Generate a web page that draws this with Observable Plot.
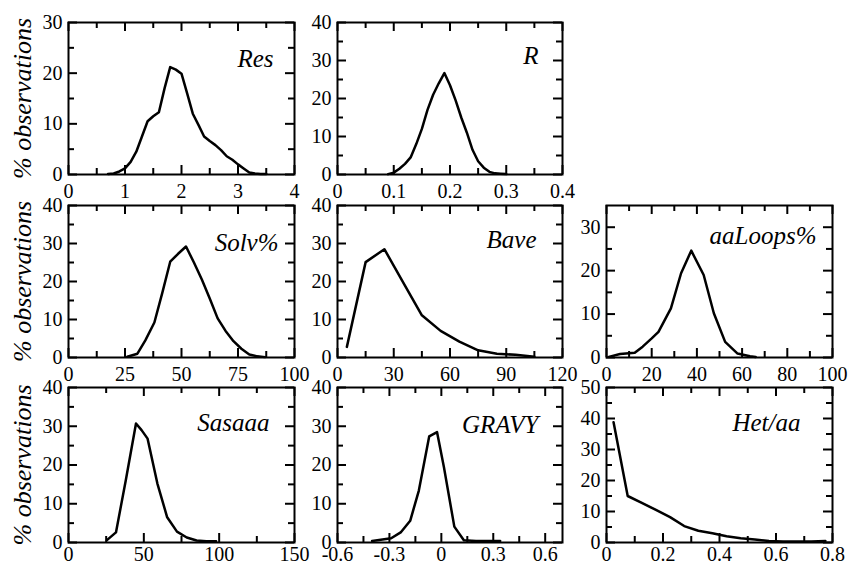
<!DOCTYPE html>
<html><head><meta charset="utf-8">
<script src="https://cdn.jsdelivr.net/npm/d3@7"></script>
<script src="https://cdn.jsdelivr.net/npm/@observablehq/plot@0.6"></script>
<style>
html,body{margin:0;padding:0;background:#fff;}
#chart{position:relative;width:849px;height:565px;overflow:hidden;background:#fff;font-family:"Liberation Serif",serif;}
#chart svg{position:absolute;font-family:"Liberation Serif",serif !important;}
#chart svg text, #chart svg tspan, #chart svg g{font-family:"Liberation Serif",serif !important;}
</style></head><body><div id="chart"></div>
<script>
// ---- data ----
const resX = [0.7,0.8,0.9,1.0,1.1,1.2,1.3,1.4,1.5,1.6,1.7,1.8,1.9,2.0,2.1,2.2,2.3,2.4,2.5,2.6,2.7,2.8,2.9,3.0,3.1,3.2,3.3,3.4,3.5];
const resY = [0.1,0.2,0.6,1.2,2.5,4.5,7.5,10.5,11.5,12.3,17,21.2,20.7,19.9,16,12,9.8,7.5,6.6,5.8,4.8,3.6,2.9,2.0,1.2,0.4,0.2,0.1,0.1];
const rX = [0.09,0.10,0.11,0.12,0.13,0.14,0.15,0.16,0.17,0.18,0.19,0.20,0.21,0.22,0.23,0.24,0.25,0.26,0.27,0.28,0.29,0.30];
const rY = [0.1,0.5,1.5,2.8,4.5,8,12,17,21,24,26.7,23.5,19.5,15,11,6.5,3.5,1.8,0.7,0.3,0.2,0.1];
const solvX = [26,30.5,34,38,41.5,45,48.5,52,55.5,59,62.5,66,69.5,73,76.5,80,83.5,87];
const solvY = [0.2,1.0,4.5,9.2,17,25.2,27.3,29.2,25,20.5,15.5,10.3,7,4.3,2.3,0.8,0.3,0.1];
const baveX = [5,15,25,35,45,55,65,75,85,95,105];
const baveY = [2.8,25.1,28.5,19.8,11.1,7,4.2,1.9,1.0,0.7,0.2];
const loopsX = [1,6,12.5,16,20,23,28.5,33,37.5,43,47.5,52.5,58,63.5,66];
const loopsY = [0.15,0.8,1.1,2.5,4.4,5.9,11.3,19.4,24.6,19,10.2,3.6,0.9,0.3,0.1];
const sasX = [25.5,31.5,38,44.8,48.5,52.5,59,65.5,72,78.5,85,91.5,98];
const sasY = [0.6,2.6,16,30.7,29,26.8,15.2,6.5,2.8,1.3,0.5,0.3,0.3];
const gravyX = [-0.4,-0.29,-0.235,-0.18,-0.13,-0.07,-0.025,0.015,0.075,0.13,0.2,0.34];
const gravyY = [0.4,1.1,2.6,5.6,13.4,27.4,28.5,19.4,4.1,0.6,0.4,0.4];
const hetX = [0.025,0.075,0.125,0.175,0.225,0.275,0.325,0.375,0.425,0.475,0.525,0.575,0.625,0.675,0.725,0.775];
const hetY = [38.8,15,12.8,10.5,8.2,5.3,3.8,3.0,2.0,1.4,1.0,0.5,0.3,0.3,0.3,0.5];

const titles = ["Res","R","Solv%","Bave","aaLoops%","Sasaaa","GRAVY","Het/aa"];
const yLabel = "% observations";

// tick values
const resXT = [0,1,2,3,4], resXm = [0.5,1.5,2.5,3.5];
const rXT = [0,0.1,0.2,0.3,0.4], rXm = [0.05,0.15,0.25,0.35];
const solvXT = [0,25,50,75,100], solvXm = [12.5,37.5,62.5,87.5];
const baveXT = [0,30,60,90,120], baveXm = [15,45,75,105];
const loopsXT = [0,20,40,60,80,100], loopsXm = [10,30,50,70,90];
const sasXT = [0,50,100,150], sasXm = [25,75,125];
const gravyXT = [-0.6,-0.3,0,0.3,0.6], gravyXm = [-0.45,-0.15,0.15,0.45];
const hetXT = [0,0.2,0.4,0.6,0.8], hetXm = [0.1,0.3,0.5,0.7];
const y30T = [0,10,20,30], y30m = [5,15,25];
const y40T = [0,10,20,30,40], y40m = [5,15,25,35];
const y50T = [0,10,20,30,40,50], y50m = [5,15,25,35,45];

// ---- layout ----
const panels = [
  {t:0, x:resX, y:resY, xd:[0,4], yd:[0,30], xT:resXT, xm:resXm, yT:y30T, ym:y30m, left:68, top:22, w:226, h:152, ylab:true, tdx:-21, tb:44, pad:9},
  {t:1, x:rX, y:rY, xd:[0,0.4], yd:[0,40], xT:rXT, xm:rXm, yT:y40T, ym:y40m, left:337, top:22, w:225, h:152, ylab:false, tdx:-24, tb:41, pad:9},
  {t:2, x:solvX, y:solvY, xd:[0,100], yd:[0,40], xT:solvXT, xm:solvXm, yT:y40T, ym:y40m, left:68, top:205, w:226, h:152, ylab:true, tdx:-16, tb:45, pad:9},
  {t:3, x:baveX, y:baveY, xd:[0,120], yd:[0,40], xT:baveXT, xm:baveXm, yT:y40T, ym:y40m, left:337, top:205, w:225, h:152, ylab:false, tdx:-26, tb:42, pad:9},
  {t:4, x:loopsX, y:loopsY, xd:[0,100], yd:[0,35], xT:loopsXT, xm:loopsXm, yT:y30T, ym:y30m, left:606, top:205, w:226, h:152, ylab:false, tdx:-16, tb:38, pad:9},
  {t:5, x:sasX, y:sasY, xd:[0,150], yd:[0,40], xT:sasXT, xm:sasXm, yT:y40T, ym:y40m, left:68, top:387, w:226, h:155, ylab:true, tdx:-25, tb:43, pad:4},
  {t:6, x:gravyX, y:gravyY, xd:[-0.6,0.7], yd:[0,40], xT:gravyXT, xm:gravyXm, yT:y40T, ym:y40m, left:337, top:387, w:225, h:155, ylab:false, tdx:-24, tb:45, pad:4},
  {t:7, x:hetX, y:hetY, xd:[0,0.8], yd:[0,50], xT:hetXT, xm:hetXm, yT:y50T, ym:y50m, left:606, top:387, w:226, h:155, ylab:false, tdx:-32, tb:43, pad:4}
];

const FONT = "Liberation Serif";
const ML = 60, MR = 20, MT = 10, MB = 34;
const chart = document.getElementById("chart");
const MAJ = 9, MIN = 6;
const tk = {stroke:"black", strokeWidth:2};

for (const p of panels) {
  const data = p.x.map((x,i)=>({x, y:p.y[i]}));
  const marks = [
    Plot.tickX(p.xT, {x:d=>d, insetTop:p.h-MAJ, ...tk}),
    Plot.tickX(p.xT, {x:d=>d, insetBottom:p.h-MAJ, ...tk}),
    Plot.tickX(p.xm, {x:d=>d, insetTop:p.h-MIN, ...tk}),
    Plot.tickX(p.xm, {x:d=>d, insetBottom:p.h-MIN, ...tk}),
    Plot.tickY(p.yT, {y:d=>d, insetRight:p.w-MAJ, ...tk}),
    Plot.tickY(p.yT, {y:d=>d, insetLeft:p.w-MAJ, ...tk}),
    Plot.tickY(p.ym, {y:d=>d, insetRight:p.w-MIN, ...tk}),
    Plot.tickY(p.ym, {y:d=>d, insetLeft:p.w-MIN, ...tk}),
    Plot.line(data, {x:"x", y:"y", stroke:"black", strokeWidth:2.5, strokeLinejoin:"round"}),
    Plot.frame({stroke:"black", strokeWidth:2}),
    Plot.axisX(p.xT, {tickSize:0, tickPadding:p.pad, fontSize:20, fontFamily:FONT, fill:"black", tickFormat:d=>String(d), label:null}),
    Plot.axisY(p.yT, {tickSize:0, tickPadding:6, fontSize:20, fontFamily:FONT, fill:"black", tickFormat:d=>String(d), label:null}),
    Plot.text([titles[p.t]], {text:d=>d, frameAnchor:"top-right", textAnchor:"end", lineAnchor:"middle", dx:p.tdx, dy:p.tb-8, fontSize:25, fontStyle:"italic", fontFamily:FONT, fill:"black"})
  ];
  if (p.ylab) marks.push(Plot.text([yLabel], {text:d=>d, frameAnchor:"left", textAnchor:"middle", lineAnchor:"middle", rotate:-90, dx:-46, fontSize:26, fontStyle:"italic", fontFamily:FONT, fill:"black"}));
  const svg = Plot.plot({
    width: p.w + ML + MR, height: p.h + MT + MB,
    marginLeft: ML, marginRight: MR, marginTop: MT, marginBottom: MB,
    x: {domain:p.xd, label:null},
    y: {domain:p.yd, label:null},
    style: {"font-family": "Liberation Serif"},
    marks
  });
  svg.style.left = (p.left - ML) + "px";
  svg.style.top = (p.top - MT) + "px";
  svg.style.maxWidth = "none";
  svg.style.background = "transparent";
  svg.style.overflow = "visible";
  svg.style.color = "black";
  svg.setAttribute("font-family", "Liberation Serif");
  svg.querySelectorAll("text, g").forEach(el => { el.style.fontFamily = "'Liberation Serif'"; });
  chart.appendChild(svg);
}
</script></body></html>
